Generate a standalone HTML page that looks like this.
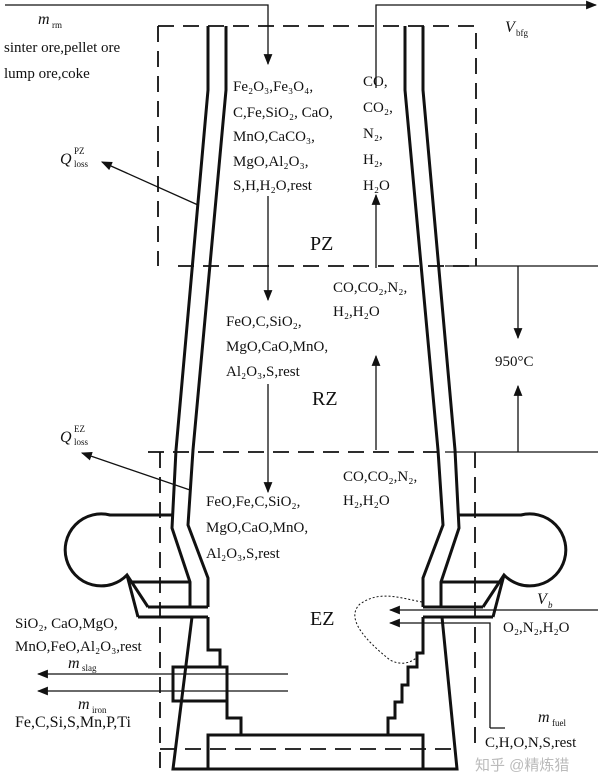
<!DOCTYPE html>
<html><head><meta charset="utf-8"><style>
html,body{margin:0;padding:0;background:#fff}
svg{display:block}
text{font-family:"Liberation Serif",serif;fill:#111}
.t{font-size:15px}
.z{font-size:20px}
</style></head><body>
<svg width="600" height="783" viewBox="0 0 600 783" xmlns="http://www.w3.org/2000/svg">
<defs>
<marker id="b" viewBox="0 0 10 10" refX="9" refY="5" markerWidth="11" markerHeight="11" orient="auto" markerUnits="userSpaceOnUse"><path d="M0,1 L10,5 L0,9z" fill="#111"/></marker>
</defs>
<g fill="none" stroke="#111" stroke-width="1.8" stroke-dasharray="16,9">
<path d="M158,26 H476 V266"/><path d="M158,26 V266"/>
<path d="M178,266 H478"/><path d="M148,452 H445"/>
<path d="M160,452 V770"/><path d="M475,452 V750"/>
<path d="M160,749 H457"/>
</g>
<g fill="none" stroke="#111" stroke-width="1.3">
<path d="M445,266 H598"/><path d="M445,452 H598"/>
<path d="M518,266 V338" marker-end="url(#b)"/><path d="M518,452 V386" marker-end="url(#b)"/>
<path d="M5,5 H268 V64" marker-end="url(#b)"/>
<path d="M376,88 V5 H596" marker-end="url(#b)"/>
<path d="M198,205 L102,162" marker-end="url(#b)"/>
<path d="M190,490 L82,453" marker-end="url(#b)"/>
<path d="M268,196 V300" marker-end="url(#b)"/>
<path d="M268,384 V492" marker-end="url(#b)"/>
<path d="M376,268 V195" marker-end="url(#b)"/>
<path d="M376,450 V356" marker-end="url(#b)"/>
<path d="M598,610 H390" marker-end="url(#b)"/>
<path d="M490,728 H505 M490,728 V623 H390" marker-end="url(#b)"/>
<path d="M288,674 H38" marker-end="url(#b)"/>
<path d="M288,691 H38" marker-end="url(#b)"/>
<path d="M422,602 C400,598 380,590 360,604 C345,618 365,640 390,660 C405,668 418,660 424,648" stroke-dasharray="2,2" stroke-width="1"/>
</g>
<g fill="none" stroke="#111" stroke-width="3" stroke-linejoin="miter">
<path d="M208,26 V90 L176,450 L172,528 L190,582 V607"/>
<path d="M226,26 V90 L193,450 L188,525 L208,578 V607"/>
<path d="M423,26 V90 L455,450 L459,528 L441,582 V607"/>
<path d="M405,26 V90 L438,450 L443,525 L423,578 V607"/>
<path d="M148,607 H208 M423,607 H483"/>
<path d="M138,617 H208 M423,617 H493"/>
<path d="M132,582 H190 M441,582 H499"/>
<path d="M172,515 H110 A36,36 0 1 0 127,575 L148,607 M127,575 L138,617"/>
<path d="M459,515 H521 A36,36 0 1 1 504,575 L483,607 M504,575 L493,617"/>
<path d="M192,617 L173,769 H457 L442,617"/>
<path d="M208,617 V650 H220 V667 M227,701 V718 H241 V735"/>
<path d="M423,617 V653 H417 V667 H408 V685 H402 V702 H395 V718 H388 V735"/>
<rect x="208" y="735" width="215" height="34"/>
<rect x="173" y="667" width="54" height="34"/>
</g>
<text x="38" y="24" font-size="16" font-style="italic">m</text><text x="52" y="28" font-size="9">rm</text>
<text class="t" x="4" y="52">sinter ore,pellet ore</text>
<text class="t" x="4" y="78">lump ore,coke</text>
<text x="505" y="32" font-size="16" font-style="italic">V</text><text x="516" y="36" font-size="9">bfg</text>
<text x="60" y="164" font-size="16" font-style="italic">Q</text><text x="74" y="167" font-size="9">loss</text><text x="74" y="154" font-size="9">PZ</text>
<text x="60" y="442" font-size="16" font-style="italic">Q</text><text x="74" y="445" font-size="9">loss</text><text x="74" y="432" font-size="9">EZ</text>
<g class="t">
<text x="233" y="91">Fe₂O₃,Fe₃O₄,</text>
<text x="233" y="117">C,Fe,SiO₂, CaO,</text>
<text x="233" y="141">MnO,CaCO₃,</text>
<text x="233" y="166">MgO,Al₂O₃,</text>
<text x="233" y="190">S,H,H₂O,rest</text>
<text x="363" y="86">CO,</text><text x="363" y="112">CO₂,</text><text x="363" y="138">N₂,</text><text x="363" y="164">H₂,</text><text x="363" y="190">H₂O</text>
<text x="333" y="292">CO,CO₂,N₂,</text><text x="333" y="316">H₂,H₂O</text>
<text x="226" y="326">FeO,C,SiO₂,</text><text x="226" y="351">MgO,CaO,MnO,</text><text x="226" y="376">Al₂O₃,S,rest</text>
<text x="343" y="481">CO,CO₂,N₂,</text><text x="343" y="505">H₂,H₂O</text>
<text x="206" y="506">FeO,Fe,C,SiO₂,</text><text x="206" y="532">MgO,CaO,MnO,</text><text x="206" y="558">Al₂O₃,S,rest</text>
<text x="15" y="628">SiO₂, CaO,MgO,</text><text x="15" y="651">MnO,FeO,Al₂O₃,rest</text>
<text x="15" y="727" font-size="16">Fe,C,Si,S,Mn,P,Ti</text>
<text x="503" y="632">O₂,N₂,H₂O</text>
<text x="485" y="747">C,H,O,N,S,rest</text>
<text x="495" y="366">950°C</text>
</g>
<text x="68" y="668" font-size="16" font-style="italic">m</text><text x="82" y="671" font-size="9">slag</text>
<text x="78" y="709" font-size="16" font-style="italic">m</text><text x="92" y="713" font-size="9">iron</text>
<text x="538" y="722" font-size="16" font-style="italic">m</text><text x="552" y="726" font-size="9">fuel</text>
<text x="537" y="604" font-size="16" font-style="italic">V</text><text x="548" y="608" font-size="9" font-style="italic">b</text>
<text class="z" x="310" y="250">PZ</text>
<text class="z" x="312" y="405">RZ</text>
<text class="z" x="310" y="625">EZ</text>
<text x="475" y="770" font-size="15" style="fill:#bbb;font-family:'Liberation Sans','Noto Sans CJK SC',sans-serif">知乎 @精炼猎</text>
</svg>
</body></html>
